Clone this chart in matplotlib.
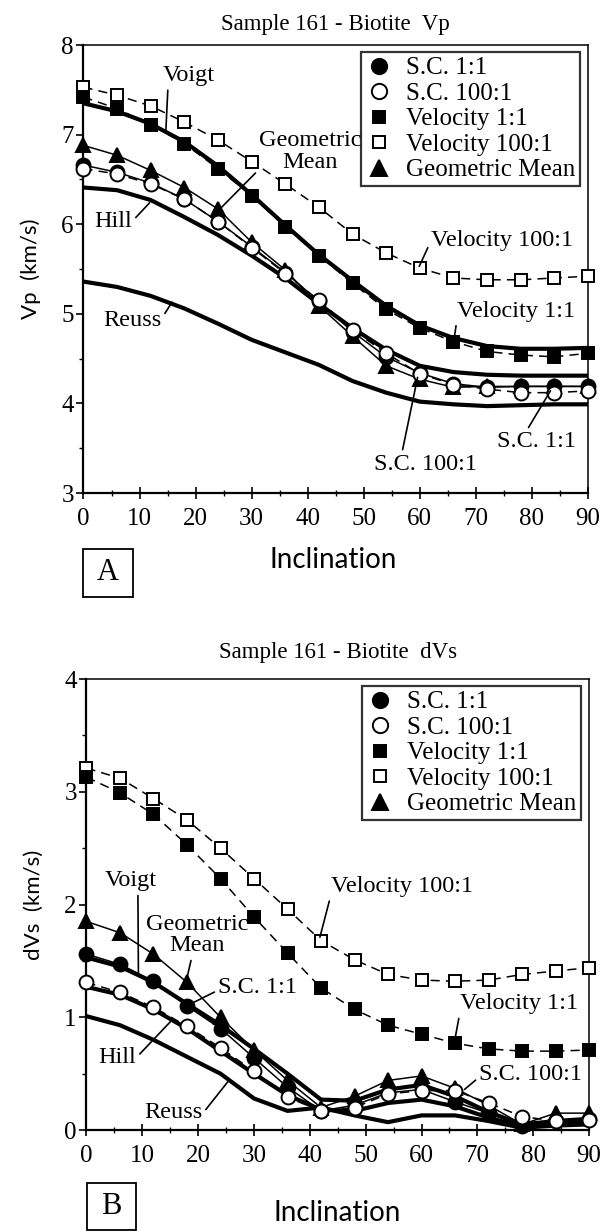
import matplotlib
matplotlib.use("Agg")
import matplotlib.pyplot as plt
from matplotlib.lines import Line2D
from matplotlib.patches import Rectangle
from matplotlib.ticker import MultipleLocator

plt.rcParams['font.family'] = ['Liberation Serif', 'DejaVu Serif']

# inclination (deg), every 6 degrees
incl = [0, 6, 12, 18, 24, 30, 36, 42, 48, 54, 60, 66, 72, 78, 84, 90]

# --- panel A : Vp (km/s) ---
vp_sc11 = [6.66, 6.58, 6.46, 6.28, 6.03, 5.75, 5.46, 5.14, 4.80, 4.52, 4.34, 4.22, 4.18, 4.19, 4.19, 4.19]
vp_sc100 = [6.62, 6.56, 6.45, 6.28, 6.03, 5.74, 5.45, 5.15, 4.82, 4.56, 4.33, 4.21, 4.16, 4.12, 4.12, 4.14]
vp_vel11 = [7.42, 7.29, 7.11, 6.90, 6.62, 6.32, 5.97, 5.65, 5.34, 5.05, 4.84, 4.69, 4.58, 4.54, 4.52, 4.56]
vp_vel100 = [7.53, 7.44, 7.32, 7.14, 6.94, 6.70, 6.45, 6.19, 5.89, 5.68, 5.51, 5.40, 5.38, 5.38, 5.40, 5.42]
vp_geo = [6.88, 6.77, 6.60, 6.41, 6.17, 5.80, 5.49, 5.09, 4.75, 4.42, 4.27, 4.18, 4.19, 4.19, 4.19, 4.19]
vp_voigt = [7.35, 7.26, 7.12, 6.92, 6.65, 6.33, 5.99, 5.66, 5.37, 5.09, 4.87, 4.73, 4.64, 4.61, 4.61, 4.62]
vp_hill = [6.41, 6.38, 6.27, 6.08, 5.88, 5.65, 5.40, 5.11, 4.84, 4.60, 4.42, 4.35, 4.32, 4.31, 4.31, 4.31]
vp_reuss = [5.36, 5.30, 5.20, 5.06, 4.89, 4.71, 4.57, 4.43, 4.25, 4.12, 4.02, 3.99, 3.97, 3.98, 3.99, 3.99]

# --- panel B : dVs (km/s) ---
dvs_sc11 = [1.56, 1.47, 1.32, 1.10, 0.90, 0.64, 0.38, 0.17, 0.22, 0.33, 0.36, 0.25, 0.15, 0.04, 0.08, 0.10]
dvs_sc100 = [1.31, 1.22, 1.09, 0.92, 0.73, 0.52, 0.29, 0.17, 0.20, 0.32, 0.35, 0.35, 0.24, 0.12, 0.08, 0.09]
dvs_vel11 = [3.13, 2.99, 2.80, 2.53, 2.23, 1.89, 1.57, 1.26, 1.07, 0.93, 0.85, 0.77, 0.72, 0.70, 0.70, 0.71]
dvs_vel100 = [3.21, 3.12, 2.94, 2.75, 2.50, 2.23, 1.96, 1.68, 1.51, 1.38, 1.33, 1.32, 1.33, 1.38, 1.41, 1.44]
dvs_geo = [1.85, 1.75, 1.56, 1.31, 1.00, 0.71, 0.44, 0.20, 0.30, 0.44, 0.48, 0.37, 0.22, 0.05, 0.15, 0.15]
dvs_voigt = [1.53, 1.45, 1.31, 1.12, 0.93, 0.72, 0.50, 0.27, 0.26, 0.36, 0.40, 0.30, 0.16, 0.05, 0.08, 0.10]
dvs_hill = [1.27, 1.20, 1.07, 0.90, 0.70, 0.50, 0.31, 0.18, 0.17, 0.24, 0.27, 0.21, 0.11, 0.03, 0.05, 0.07]
dvs_reuss = [1.01, 0.93, 0.80, 0.65, 0.50, 0.28, 0.17, 0.20, 0.13, 0.07, 0.13, 0.13, 0.08, 0.02, 0.04, 0.05]

labels = ['S.C. 1:1', 'S.C. 100:1', 'Velocity 1:1', 'Velocity 100:1', 'Geometric Mean']

# marker styles for the measured series
dash = (0, (6, 4))
styles = {
    'S.C. 1:1': dict(marker='o', mfc='black', ls='-', ms=10),
    'S.C. 100:1': dict(marker='o', mfc='white', ls=dash, ms=10),
    'Velocity 1:1': dict(marker='s', mfc='black', ls=dash, ms=8),
    'Velocity 100:1': dict(marker='s', mfc='white', ls=dash, ms=8),
    'Geometric Mean': dict(marker='^', mfc='black', ls='-', ms=10),
}


def panel(ax, series, bounds, title, title_pad, ylabel):
    voigt, hill, reuss = bounds
    for b in (voigt, hill, reuss):
        ax.plot(incl, b, color='black', lw=3, solid_capstyle='round', zorder=2)
    order = ['Velocity 100:1', 'Velocity 1:1', 'Geometric Mean', 'S.C. 1:1', 'S.C. 100:1']
    for name in order:
        st = styles[name]
        ax.plot(incl, series[name], color='black', lw=1.1, ls=st['ls'],
                marker=st['marker'], mfc=st['mfc'], mec='black', mew=1.4,
                ms=st['ms'], zorder=3, clip_on=False)
    ax.set_xlim(0, 90)
    ax.xaxis.set_major_locator(MultipleLocator(10))
    ax.xaxis.set_minor_locator(MultipleLocator(5))
    ax.yaxis.set_major_locator(MultipleLocator(1))
    ax.yaxis.set_minor_locator(MultipleLocator(0.5))
    ax.tick_params(axis='x', which='major', direction='inout', length=9, width=1.2, labelsize=18, pad=6)
    ax.tick_params(axis='x', which='minor', direction='inout', length=5, width=1.0)
    ax.tick_params(axis='y', which='major', direction='out', length=5, width=1.2, labelsize=18, pad=2)
    ax.tick_params(axis='y', which='minor', direction='out', length=3, width=1.0)
    for s in ax.spines.values():
        s.set_linewidth(1.1)
    ax.spines['left'].set_linewidth(1.6)
    ax.spines['bottom'].set_linewidth(1.6)
    ax.set_title(title, fontsize=16.5, pad=title_pad)
    ax.set_ylabel(ylabel, fontfamily='Lato', fontsize=16)
    ax.yaxis.set_label_coords(-0.085, 0.5)
    ax.set_xlabel('Inclination', fontfamily='Lato', fontsize=20)

    handles = []
    for name in labels:
        st = styles[name]
        ms = {'o': 11, 's': 8, '^': 12}[st['marker']]
        handles.append(Line2D([], [], ls='none', marker=st['marker'], mfc=st['mfc'],
                              mec='black', mew=1.4, ms=ms, color='black'))
    leg = ax.legend(handles, labels, loc='upper right', bbox_to_anchor=(0.985, 0.985),
                    fontsize=18, frameon=True, fancybox=False, edgecolor='black',
                    borderpad=0.2, labelspacing=0.12, handlelength=1.0,
                    handletextpad=0.6, borderaxespad=0.0)
    leg.get_frame().set_linewidth(1.6)
    leg.set_zorder(5)


def note(ax, text, xy, xytext, relpos=(0.5, 0.5)):
    ax.annotate(text, xy=xy, xytext=xytext, textcoords='data', fontsize=17.5,
                ha='center', va='center', linespacing=1.05, zorder=6,
                arrowprops=dict(arrowstyle='-', color='black', lw=1.2,
                                shrinkA=1, shrinkB=0, relpos=relpos))


fig = plt.figure(figsize=(6.04, 12.31), dpi=100)
ax1 = fig.add_axes([0.1382, 0.5995, 0.8353, 0.3639])
ax2 = fig.add_axes([0.1432, 0.0820, 0.8320, 0.3664])

panel(ax1, {'S.C. 1:1': vp_sc11, 'S.C. 100:1': vp_sc100, 'Velocity 1:1': vp_vel11,
            'Velocity 100:1': vp_vel100, 'Geometric Mean': vp_geo},
      (vp_voigt, vp_hill, vp_reuss), 'Sample 161 - Biotite  Vp', 11, 'Vp  (km/s)')
ax1.set_ylim(3, 8)
ax1.xaxis.set_label_coords(0.494, -0.12)

panel(ax2, {'S.C. 1:1': dvs_sc11, 'S.C. 100:1': dvs_sc100, 'Velocity 1:1': dvs_vel11,
            'Velocity 100:1': dvs_vel100, 'Geometric Mean': dvs_geo},
      (dvs_voigt, dvs_hill, dvs_reuss), 'Sample 161 - Biotite  dVs', 15, 'dVs  (km/s)')
ax2.set_ylim(0, 4)
ax2.xaxis.set_label_coords(0.498, -0.155)

# callouts, panel A
note(ax1, 'Voigt', (14.7, 7.05), (18.8, 7.66), (0.1, 0.0))
note(ax1, 'Geometric\nMean', (23.7, 6.13), (40.5, 6.81), (0.19, 0.55))
note(ax1, 'Hill', (11.8, 6.24), (5.3, 6.03), (1.0, 0.5))
note(ax1, 'Reuss', (15.8, 5.13), (8.7, 4.92), (1.0, 0.6))
note(ax1, 'Velocity 100:1', (59.9, 5.53), (74.7, 5.82), (0.0, 0.5))
note(ax1, 'Velocity 1:1', (66.1, 4.71), (77.1, 5.03), (0.0, 0.0))
note(ax1, 'S.C. 1:1', (83.3, 4.14), (80.8, 3.57), (0.37, 1.0))
note(ax1, 'S.C. 100:1', (59.6, 4.29), (61.0, 3.32), (0.27, 1.0))

# callouts, panel B
note(ax2, 'Voigt', (9.3, 1.38), (7.9, 2.21), (0.64, 0.0))
note(ax2, 'Geometric\nMean', (18.0, 1.35), (19.8, 1.73), (0.45, 0.0))
note(ax2, 'S.C. 1:1', (19.1, 1.13), (30.7, 1.26), (0.0, 0.4))
note(ax2, 'Hill', (15.2, 0.97), (5.5, 0.64), (1.0, 0.5))
note(ax2, 'Reuss', (25.5, 0.44), (15.5, 0.16), (1.0, 0.4))
note(ax2, 'Velocity 100:1', (41.8, 1.71), (56.6, 2.16), (0.0, 0.2))
note(ax2, 'Velocity 1:1', (66.0, 0.81), (77.4, 1.12), (0.0, 0.0))
note(ax2, 'S.C. 100:1', (67.7, 0.36), (79.6, 0.49), (0.0, 0.4))

# boxed panel letters
W, H = 604.0, 1231.0
for letter, (x0, y0, w, h) in (('A', (83, 549, 50, 48)), ('B', (87, 1183, 49, 47))):
    fig.patches.append(Rectangle((x0 / W, 1 - (y0 + h) / H), w / W, h / H,
                                 transform=fig.transFigure, fill=False,
                                 ec='black', lw=1.3))
    fig.text((x0 + w / 2) / W, 1 - (y0 + h / 2) / H, letter, fontsize=22,
             ha='center', va='center')

fig.savefig('out.png', dpi=100)
